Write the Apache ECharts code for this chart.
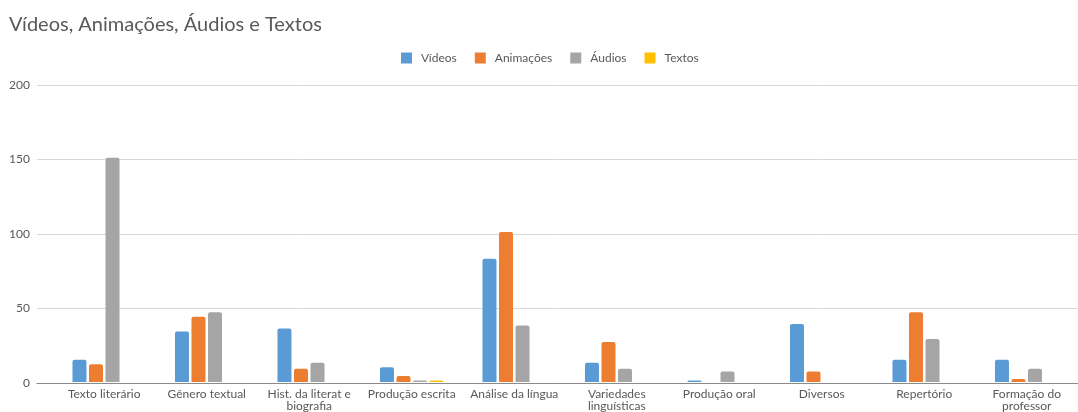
<!DOCTYPE html>
<html>
<head>
<meta charset="utf-8">
<script src="https://cdn.jsdelivr.net/npm/echarts@6/dist/echarts.min.js"></script>
<style>
  html, body { margin: 0; padding: 0; background: #fff; }
  #chart { width: 1078px; height: 412px; }
</style>
</head>
<body>
<div id="chart"></div>
<script>
const categories = [
  'Texto literário', 'Gênero textual', 'Hist. da literat e\nbiografia', 'Produção escrita',
  'Análise da língua', 'Variedades\nlinguísticas', 'Produção oral', 'Diversos',
  'Repertório', 'Formação do\nprofessor'
]
const videos = [15, 34, 36, 10, 83, 13, 1, 39, 15, 15]
const animacoes = [12, 44, 9, 4, 101, 27, 0, 7, 47, 2]
const audios = [151, 47, 13, 1, 38, 9, 7, 0, 29, 9]
const textos = [0, 0, 0, 1, 0, 0, 0, 0, 0, 0]
const yTicks = [0, 50, 100, 150, 200]

const font = 'Lato, "Open Sans", sans-serif'
const textColor = '#595959'

const chart = echarts.init(document.getElementById('chart'))

const bar = (name, data, color) => ({
  name,
  type: 'bar',
  data,
  xAxisIndex: 1,
  yAxisIndex: 1,
  barWidth: 14,
  barGap: '18%',
  itemStyle: { color, borderRadius: [2, 2, 0, 0] }
})

chart.setOption({
  animation: false,
  backgroundColor: '#fff',
  title: {
    text: 'Vídeos, Animações, Áudios e Textos',
    left: 4,
    top: 10,
    textStyle: { fontFamily: font, fontSize: 20, fontWeight: 'normal', color: textColor }
  },
  legend: {
    left: 396,
    top: 47,
    itemWidth: 11,
    itemHeight: 11,
    itemGap: 18,
    icon: 'rect',
    textStyle: { fontFamily: font, fontSize: 12, color: textColor, padding: [0, 0, 0, 4] }
  },
  grid: [
    { left: 37, right: 0, top: 85, bottom: 29 },
    { left: 53, right: -10, top: 85, bottom: 29 }
  ],
  xAxis: [
    {
      type: 'value',
      gridIndex: 0,
      min: 0,
      max: 1,
      axisLine: { show: true, lineStyle: { color: '#8a8a8a', width: 1 } },
      axisTick: { show: false },
      axisLabel: { show: false },
      splitLine: { show: false }
    },
    {
      type: 'category',
      gridIndex: 1,
      data: categories,
      axisLine: { show: false },
      axisTick: { show: false },
      axisLabel: {
        interval: 0,
        margin: 6,
        fontFamily: font,
        fontSize: 12,
        lineHeight: 12,
        color: textColor
      }
    }
  ],
  yAxis: [
    {
      type: 'value',
      gridIndex: 0,
      min: yTicks[0],
      max: yTicks[yTicks.length - 1],
      interval: 50,
      axisLine: { show: false },
      axisTick: { show: false },
      axisLabel: { margin: 7, fontFamily: font, fontSize: 12, color: textColor },
      splitLine: { lineStyle: { color: '#d9d9d9', width: 1 } }
    },
    {
      type: 'value',
      gridIndex: 1,
      min: yTicks[0],
      max: yTicks[yTicks.length - 1],
      show: false,
      splitLine: { show: false }
    }
  ],
  series: [
    bar('Vídeos', videos, '#5b9bd5'),
    bar('Animações', animacoes, '#ed7d31'),
    bar('Áudios', audios, '#a5a5a5'),
    bar('Textos', textos, '#ffc000')
  ]
})
</script>
</body>
</html>
